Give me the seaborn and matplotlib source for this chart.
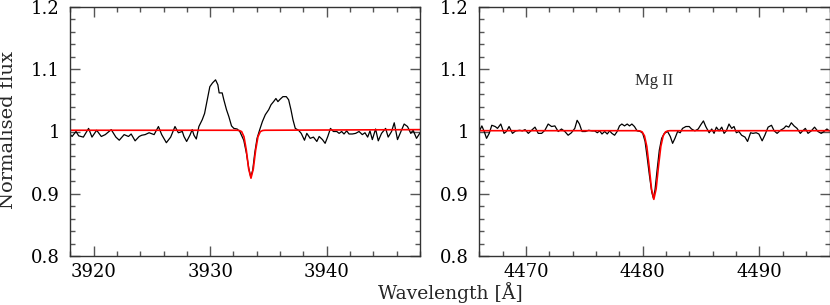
import matplotlib
matplotlib.use('Agg')
import matplotlib.pyplot as plt
from matplotlib.ticker import MultipleLocator, FixedLocator, FixedFormatter
import seaborn as sns

ca_wave = [3917.92, 3918.15, 3918.49, 3918.72, 3919.12, 3919.57, 3919.86, 3920.26,
           3920.66, 3921.00, 3921.51, 3921.91, 3922.20, 3922.62, 3922.99, 3923.22,
           3923.56, 3923.91, 3924.13, 3924.42, 3924.76, 3925.19, 3925.56, 3925.84,
           3926.24, 3926.61, 3926.98, 3927.27, 3927.61,
           3927.75, 3927.98, 3928.26, 3928.46, 3928.61, 3928.81, 3929.03, 3929.32,
           3929.52, 3929.75, 3929.97, 3930.20, 3930.46, 3930.66, 3930.77, 3931.03,
           3931.17, 3931.40, 3931.60, 3931.83, 3932.03, 3932.31, 3932.54, 3932.88,
           3933.11, 3933.31, 3933.48, 3933.65, 3933.82, 3934.02, 3934.25, 3934.48,
           3934.73, 3935.02, 3935.22, 3935.44, 3935.64, 3935.81, 3936.01, 3936.24,
           3936.53, 3936.73, 3936.93, 3937.10, 3937.30,
           3937.58, 3937.81, 3938.09, 3938.29, 3938.58, 3938.86, 3939.15, 3939.35,
           3939.63, 3939.86, 3940.09, 3940.32, 3940.57, 3940.86, 3941.06, 3941.28,
           3941.48, 3941.71, 3941.91, 3942.20, 3942.48, 3942.77, 3943.05, 3943.28,
           3943.51, 3943.71, 3943.91, 3944.19, 3944.42, 3944.70, 3945.05, 3945.27,
           3945.56, 3945.79, 3946.07, 3946.41, 3946.64, 3946.93, 3947.21, 3947.41,
           3947.70, 3948.01]
ca_flux = [0.997, 0.992, 1.000, 0.993, 0.991, 1.005, 0.991, 1.002,
           0.992, 0.995, 1.003, 0.991, 0.986, 0.995, 0.992, 0.996,
           0.985, 0.992, 0.994, 0.995, 0.998, 0.995, 1.008, 0.995,
           0.982, 0.991, 1.008, 0.998, 1.000,
           0.992, 0.984, 0.994, 1.003, 0.994, 0.988, 1.008, 1.019,
           1.029, 1.051, 1.072, 1.078, 1.083, 1.075, 1.062, 1.062,
           1.051, 1.035, 1.024, 1.009, 1.005, 1.004, 1.000, 0.986,
           0.965, 0.941, 0.927, 0.938, 0.965, 0.989, 1.003, 1.016,
           1.027, 1.035, 1.043, 1.048, 1.053, 1.048, 1.052, 1.056,
           1.056, 1.051, 1.035, 1.019, 1.005,
           1.002, 0.997, 0.986, 0.997, 0.989, 0.991, 0.984, 0.992,
           0.987, 0.981, 0.992, 1.005, 1.000, 1.000, 0.997, 1.000,
           0.996, 1.001, 0.996, 0.996, 0.997, 1.000, 0.995, 0.998,
           0.991, 1.001, 0.987, 1.004, 0.985, 0.997, 1.005, 0.991,
           1.000, 1.014, 0.987, 1.002, 1.012, 1.008, 0.997, 1.002,
           0.989, 0.998]

# Ca II K region: model
ca_model_wave = [3918.0, 3932.3, 3932.5, 3932.7, 3932.9, 3933.1, 3933.3, 3933.5,
                 3933.7, 3933.9, 3934.1, 3934.3, 3934.5, 3934.7, 3948.0]
ca_model_flux = [1.002, 1.002, 1.0016, 0.9998, 0.9916, 0.970, 0.940, 0.925,
                 0.940, 0.970, 0.9916, 0.9998, 1.0016, 1.002, 1.003]

# Mg II 4481 region (right panel): observed spectrum
mg_wave = [4465.99, 4466.22, 4466.42, 4466.62, 4466.85, 4467.07, 4467.36, 4467.56,
           4467.84, 4468.12, 4468.32, 4468.55, 4468.84, 4469.12, 4469.46, 4469.69,
           4469.92, 4470.20, 4470.48, 4470.77, 4471.05, 4471.34, 4471.62, 4471.90,
           4472.19, 4472.47, 4472.76, 4473.04, 4473.33, 4473.61, 4473.89, 4474.18,
           4474.38, 4474.58, 4474.80, 4475.09, 4475.37, 4475.66,
           4475.88, 4476.11, 4476.31, 4476.51, 4476.74, 4476.96, 4477.16, 4477.36,
           4477.59, 4477.81, 4478.01, 4478.21, 4478.44, 4478.67, 4478.87, 4479.07,
           4479.29, 4479.52, 4479.80, 4480.00, 4480.20, 4480.37, 4480.57, 4480.77,
           4480.91, 4481.05, 4481.23, 4481.42, 4481.62, 4481.85, 4482.13, 4482.36,
           4482.56, 4482.76, 4482.99, 4483.21, 4483.41, 4483.70, 4483.98, 4484.18,
           4484.47, 4484.75, 4484.98, 4485.20, 4485.40,
           4485.69, 4485.91, 4486.11, 4486.31, 4486.54, 4486.77, 4486.97, 4487.16,
           4487.39, 4487.62, 4487.82, 4488.02, 4488.24, 4488.47, 4488.76, 4488.98,
           4489.24, 4489.44, 4489.72, 4489.95, 4490.23, 4490.46, 4490.74, 4491.03,
           4491.26, 4491.51, 4491.80, 4492.08, 4492.28, 4492.51, 4492.73, 4492.96,
           4493.22, 4493.50, 4493.70, 4493.93, 4494.16, 4494.44, 4494.72, 4495.01,
           4495.29, 4495.52, 4495.78, 4495.98]
mg_flux = [1.000, 1.009, 1.000, 0.989, 0.997, 1.010, 1.008, 1.005,
           1.012, 0.997, 1.000, 1.008, 0.997, 1.001, 1.002, 1.001,
           1.003, 0.997, 1.002, 1.007, 0.997, 0.997, 1.002, 1.012,
           1.008, 1.009, 1.000, 1.004, 1.000, 0.994, 0.998, 1.005,
           1.018, 1.012, 1.000, 1.000, 1.002, 1.001,
           1.001, 0.998, 1.001, 0.996, 1.000, 0.996, 1.001, 0.997,
           0.994, 1.000, 1.009, 1.012, 1.009, 1.012, 1.009, 1.012,
           1.008, 1.001, 1.000, 0.997, 0.984, 0.960, 0.930, 0.903,
           0.893, 0.906, 0.938, 0.970, 0.989, 0.997, 1.000, 0.992,
           0.981, 0.989, 1.000, 0.998, 1.005, 1.008, 1.008, 1.004,
           1.001, 1.004, 1.011, 1.017, 1.008,
           0.998, 1.004, 0.997, 1.007, 1.001, 1.007, 0.997, 1.001,
           1.012, 1.005, 1.008, 0.998, 1.000, 0.994, 0.991, 0.984,
           0.998, 0.997, 0.998, 0.996, 0.985, 0.994, 1.007, 1.010,
           1.001, 0.997, 1.002, 1.005, 1.009, 1.007, 1.014, 1.009,
           1.005, 0.997, 1.001, 1.005, 0.997, 1.001, 1.007, 1.000,
           0.997, 1.000, 1.004, 1.001]

# Mg II region: model
mg_model_wave = [4466.0, 4479.55, 4479.75, 4479.95, 4480.15, 4480.35, 4480.55, 4480.75,
                 4480.95, 4481.15, 4481.35, 4481.55, 4481.75, 4481.95, 4482.15, 4482.35,
                 4496.0]
mg_model_flux = [1.0013, 1.0013, 1.001, 0.9994, 0.993, 0.976, 0.944, 0.908,
                 0.891, 0.908, 0.944, 0.976, 0.993, 0.9994, 1.001, 1.0013,
                 1.0013]

y_ticks = [0.8, 0.9, 1.0, 1.1, 1.2]
y_tick_labels = ['0.8', '0.9', '1', '1.1', '1.2']
ca_xticks = [3920, 3930, 3940]
mg_xticks = [4470, 4480, 4490]

sns.set_style('ticks')
plt.rcParams['font.family'] = ['DejaVu Serif']

fig = plt.figure(figsize=(8.3, 3.05), dpi=100)
W, H = 830, 305
ax1 = fig.add_axes([70.3 / W, 49 / H, 349.7 / W, 249 / H])
ax2 = fig.add_axes([479.3 / W, 49 / H, 350.2 / W, 249 / H])

panels = [
    (ax1, ca_wave, ca_flux, ca_model_wave, ca_model_flux, (3918, 3948), ca_xticks),
    (ax2, mg_wave, mg_flux, mg_model_wave, mg_model_flux, (4466, 4496), mg_xticks),
]
for ax, w, f, mw, mf, xlim, xt in panels:
    sns.lineplot(x=w, y=f, ax=ax, color='black', lw=0.9, estimator=None, sort=False)
    sns.lineplot(x=mw, y=mf, ax=ax, color='red', lw=1.2, estimator=None, sort=False)
    ax.set_xlim(*xlim)
    ax.set_ylim(0.8, 1.2)
    ax.xaxis.set_major_locator(FixedLocator(xt))
    ax.xaxis.set_minor_locator(MultipleLocator(2))
    ax.yaxis.set_major_locator(FixedLocator(y_ticks))
    ax.yaxis.set_major_formatter(FixedFormatter(y_tick_labels))
    ax.yaxis.set_minor_locator(MultipleLocator(0.02))
    ax.tick_params(which='both', direction='in', top=True, right=True,
                   color='#555555', labelsize=13, labelcolor='black')
    ax.tick_params(which='major', length=7, width=1)
    ax.tick_params(which='minor', length=3.5, width=1)
    ax.tick_params(axis='x', pad=5)
    ax.tick_params(axis='y', pad=7.5)
    for s in ax.spines.values():
        s.set_color('#333333')
        s.set_linewidth(1)
    ax.set_xlabel('')
    ax.set_ylabel('')

ax2.text(4481.0, 1.081, 'Mg II', ha='center', va='center',
         fontsize=12, family='Liberation Serif')

fig.text(8 / W, 1 - 130 / H, 'Normalised flux', rotation=90,
         ha='center', va='center', fontsize=14)
fig.text(450 / W, 1 - 293 / H, 'Wavelength [Å]', ha='center', va='center', fontsize=13.5)

fig.savefig('out.png', dpi=100)
